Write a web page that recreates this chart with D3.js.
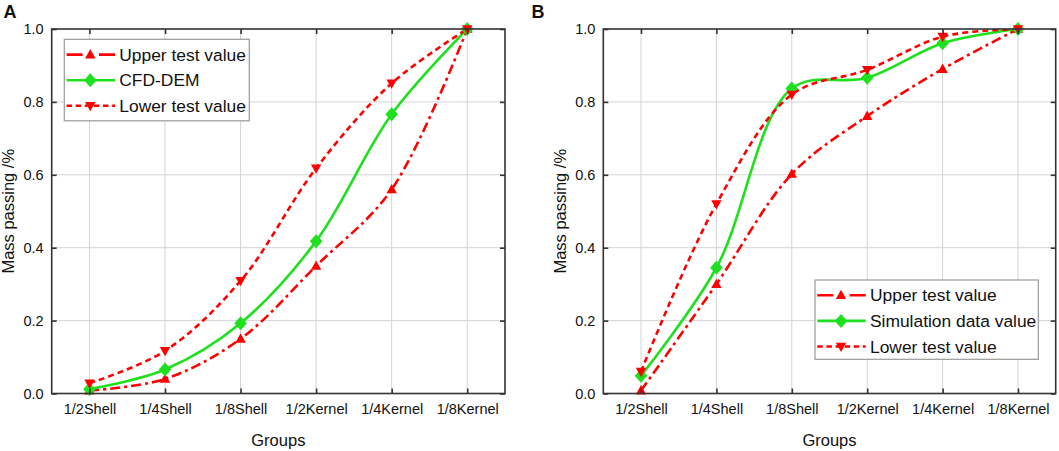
<!DOCTYPE html>
<html>
<head>
<meta charset="utf-8">
<script src="https://cdn.jsdelivr.net/npm/d3@7"></script>
<style>
  body { margin: 0; background: #fff; }
  text { font-family: "Liberation Sans", Arial, sans-serif; fill: #111; }
</style>
</head>
<body>
<div id="chart"></div>
<script>
// categories shared by both panels
const groups = ['1/2Shell', '1/4Shell', '1/8Shell', '1/2Kernel', '1/4Kernel', '1/8Kernel'];
const yTicks = [0, 0.2, 0.4, 0.6, 0.8, 1.0];

// panel A
const upperA = [0.008, 0.04, 0.15, 0.35, 0.56, 1.0];
const cfdA   = [0.012, 0.066, 0.193, 0.418, 0.766, 1.0];
const lowerA = [0.028, 0.117, 0.309, 0.618, 0.851, 1.0];

// panel B
const upperB = [0.008, 0.30, 0.602, 0.761, 0.89, 1.0];
const simB   = [0.049, 0.345, 0.837, 0.866, 0.961, 1.0];
const lowerB = [0.06, 0.52, 0.82, 0.888, 0.979, 1.0];

const RED = '#ff0000', GREEN = '#1fe01f';

const svg = d3.select('#chart').append('svg')
    .attr('width', 1059)
    .attr('height', 451);

// marker shapes
function markerPath(type) {
  if (type === 'up') return 'M0,-5.5L5.2,3.8L-5.2,3.8Z';
  if (type === 'down') return 'M0,5.5L5.2,-3.8L-5.2,-3.8Z';
  return 'M0,-7L6.3,0L0,7L-6.3,0Z';
}

function drawPanel(cfg) {
  const g = svg.append('g');
  const x = d3.scalePoint().domain(groups).range([cfg.left, cfg.right]).padding(0.5);
  const y = d3.scaleLinear().domain([0, 1]).range([393.5, 29]);

  // grid lines
  g.append('g').selectAll('line.gy')
      .data(yTicks.slice(1, -1))
    .join('line')
      .attr('x1', cfg.left).attr('x2', cfg.right)
      .attr('y1', d => y(d)).attr('y2', d => y(d))
      .attr('stroke', '#d4d4d4').attr('stroke-width', 1);
  g.append('g').selectAll('line.gx')
      .data(groups)
    .join('line')
      .attr('x1', d => x(d)).attr('x2', d => x(d))
      .attr('y1', y(0)).attr('y2', y(1))
      .attr('stroke', '#d4d4d4').attr('stroke-width', 1);

  // clip for the curves
  const clipId = 'clip-' + cfg.id;
  svg.append('defs').append('clipPath').attr('id', clipId)
    .append('rect')
      .attr('x', cfg.left).attr('y', y(1))
      .attr('width', cfg.right - cfg.left).attr('height', y(0) - y(1));

  const line = d3.line()
      .x((d, i) => x(groups[i]))
      .y(d => y(d))
      .curve(d3.curveCatmullRom.alpha(0.5));

  const curves = g.append('g').attr('clip-path', `url(#${clipId})`);
  cfg.series.forEach(s => {
    curves.append('path')
        .attr('d', line(s.values))
        .attr('fill', 'none')
        .attr('stroke', s.color)
        .attr('stroke-width', 2.6)
        .attr('stroke-dasharray', s.dash);
  });

  // markers
  cfg.series.forEach(s => {
    g.append('g').selectAll('path')
        .data(s.values)
      .join('path')
        .attr('transform', (d, i) => `translate(${x(groups[i])},${y(d)})`)
        .attr('d', markerPath(s.marker))
        .attr('fill', s.color);
  });

  // frame
  g.append('rect')
      .attr('x', cfg.left).attr('y', y(1))
      .attr('width', cfg.right - cfg.left).attr('height', y(0) - y(1))
      .attr('fill', 'none').attr('stroke', '#333').attr('stroke-width', 1.6);

  // axes with inward ticks
  const bottom = g.append('g').attr('transform', `translate(0,${y(0)})`)
      .call(d3.axisBottom(x).tickSize(-5).tickPadding(10.5));
  const left = g.append('g').attr('transform', `translate(${cfg.left},0)`)
      .call(d3.axisLeft(y).tickValues(yTicks).tickFormat(d3.format('.1f')).tickSize(-5).tickPadding(8));
  g.append('g').attr('transform', `translate(0,${y(1)})`)
      .call(d3.axisTop(x).tickSize(-5).tickFormat(''));
  g.append('g').attr('transform', `translate(${cfg.right},0)`)
      .call(d3.axisRight(y).tickValues(yTicks).tickSize(-5).tickFormat(''));

  g.selectAll('.domain').remove();
  g.selectAll('.tick line').attr('stroke', '#333').attr('stroke-width', 1.6);
  bottom.selectAll('text').attr('font-size', 14.5).attr('fill', '#111')
      .style('font-family', '"Liberation Sans", Arial, sans-serif');
  left.selectAll('text').attr('font-size', 14.5).attr('fill', '#111')
      .style('font-family', '"Liberation Sans", Arial, sans-serif');

  // axis titles
  g.append('text')
      .attr('x', (cfg.left + cfg.right) / 2).attr('y', 446)
      .attr('text-anchor', 'middle').attr('font-size', 16.5)
      .text('Groups');
  g.append('text')
      .attr('transform', `translate(${cfg.left - 37.5},${(y(0) + y(1)) / 2}) rotate(-90)`)
      .attr('text-anchor', 'middle').attr('font-size', 16.5)
      .text('Mass passing /%');

  // panel letter
  g.append('text')
      .attr('x', cfg.letterX).attr('y', 17.5)
      .attr('font-size', 18).attr('font-weight', 'bold')
      .text(cfg.id);

  // legend
  const lg = g.append('g').attr('transform', `translate(${cfg.legend.x},${cfg.legend.y})`);
  lg.append('rect')
      .attr('width', cfg.legend.w).attr('height', cfg.legend.h)
      .attr('fill', '#fff').attr('stroke', '#9a9a9a').attr('stroke-width', 1.2);
  cfg.series.forEach((s, i) => {
    const row = lg.append('g').attr('transform', `translate(0,${15.3 + i * 25.6})`);
    row.append('line')
        .attr('x1', 2.3).attr('x2', 50.7)
        .attr('stroke', s.color).attr('stroke-width', 2.6)
        .attr('stroke-dasharray', s.legendDash);
    row.append('path')
        .attr('transform', 'translate(26,0)')
        .attr('d', markerPath(s.marker))
        .attr('fill', s.color);
    row.append('text')
        .attr('x', 55).attr('dy', '0.35em')
        .attr('font-size', 17.4)
        .text(s.name);
  });
}

drawPanel({
  id: 'A', left: 51.7, right: 505, letterX: 3.5,
  legend: {x: 64.3, y: 39.3, w: 185, h: 81.5},
  series: [
    {name: 'Upper test value', values: upperA, color: RED, marker: 'up', dash: '10,4,3,4', legendDash: '16,16.4'},
    {name: 'CFD-DEM', values: cfdA, color: GREEN, marker: 'diamond', dash: null, legendDash: null},
    {name: 'Lower test value', values: lowerA, color: RED, marker: 'down', dash: '6,4', legendDash: '5.5,3.6'}
  ]
});

drawPanel({
  id: 'B', left: 603.3, right: 1055.7, letterX: 531.5,
  legend: {x: 815, y: 280, w: 223.3, h: 79.3},
  series: [
    {name: 'Upper test value', values: upperB, color: RED, marker: 'up', dash: '10,4,3,4', legendDash: '16,16.4'},
    {name: 'Simulation data value', values: simB, color: GREEN, marker: 'diamond', dash: null, legendDash: null},
    {name: 'Lower test value', values: lowerB, color: RED, marker: 'down', dash: '6,4', legendDash: '5.5,3.6'}
  ]
});
</script>
</body>
</html>
